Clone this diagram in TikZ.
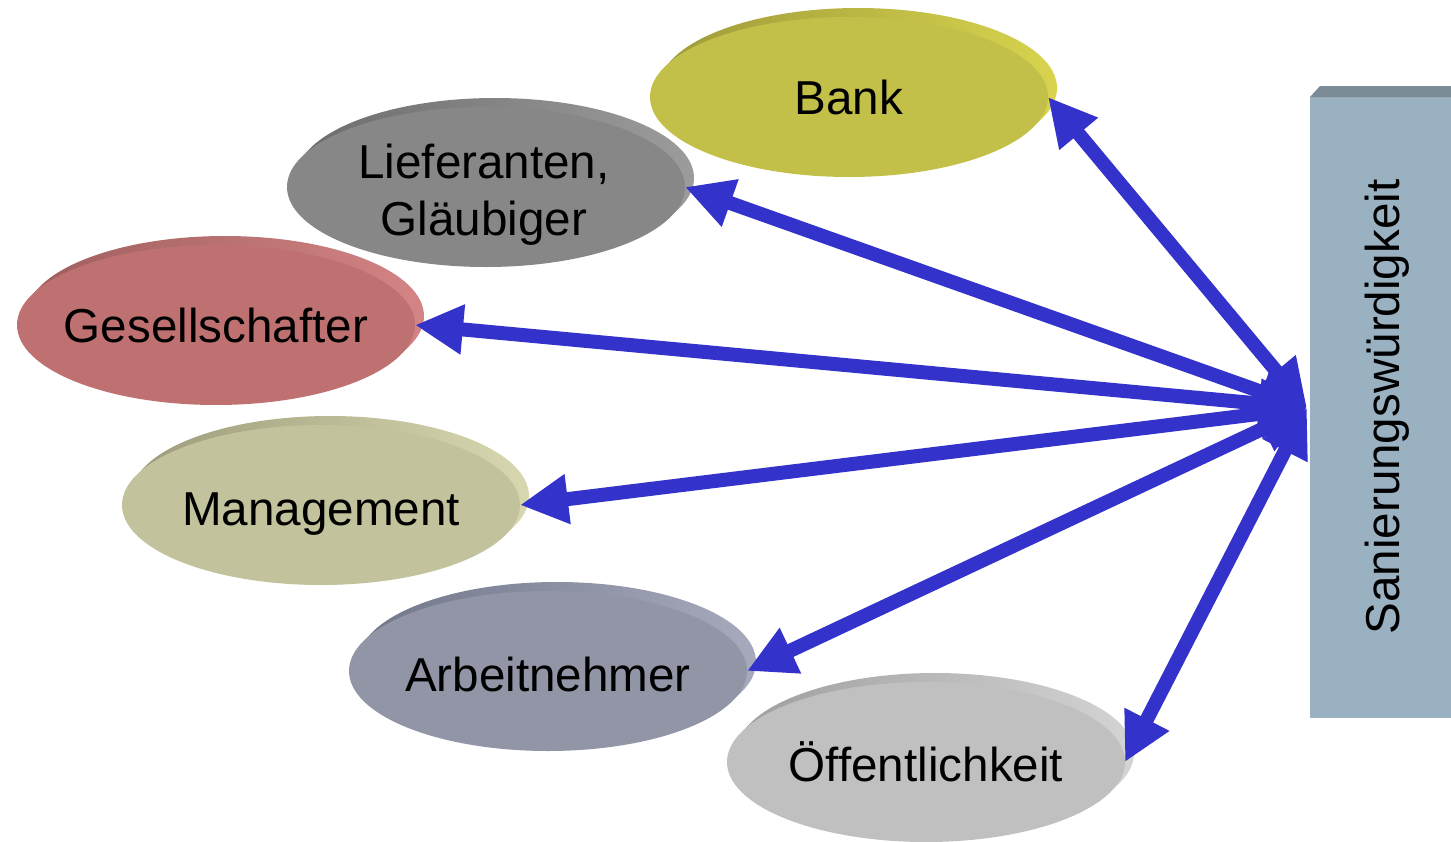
\documentclass[tikz,border=0pt]{standalone}
\usepackage{fontspec}
\setmainfont{Liberation Sans}
\usetikzlibrary{arrows.meta,shapes.geometric,calc}
\definecolor{bankM}{HTML}{C3C04A}\definecolor{bankD}{HTML}{9E9A3A}\definecolor{bankL}{HTML}{D8D44E}
\definecolor{liefM}{HTML}{878787}\definecolor{liefD}{HTML}{6C6C6C}\definecolor{liefL}{HTML}{9C9C9C}
\definecolor{gesM}{HTML}{BF7171}\definecolor{gesD}{HTML}{9E5E5E}\definecolor{gesL}{HTML}{D48484}
\definecolor{mgmM}{HTML}{C2C29C}\definecolor{mgmD}{HTML}{9C9C7C}\definecolor{mgmL}{HTML}{D8D8B0}
\definecolor{arbM}{HTML}{9195A6}\definecolor{arbD}{HTML}{72768A}\definecolor{arbL}{HTML}{A6AABC}
\definecolor{oefM}{HTML}{C0C0C0}\definecolor{oefD}{HTML}{9E9E9E}\definecolor{oefL}{HTML}{D4D4D4}
\definecolor{boxM}{HTML}{9AB1C1}\definecolor{boxT}{HTML}{7B8C97}
\definecolor{arrowblue}{HTML}{3333CC}
\tikzset{
  ell/.style={ellipse, minimum width=199pt, minimum height=80pt, inner sep=0pt, outer sep=0pt, draw=none},
  rim/.style 2 args={ell, left color=#1, right color=#2},
  lbl/.style={font=\fontsize{23.8}{28.5}\selectfont, text height=17pt, text depth=0pt, inner sep=0pt},
  lbl2/.style={font=\fontsize{23.8}{28.5}\selectfont, align=center, inner sep=0pt},
  arr/.style={draw=arrowblue, line width=7pt,
    {Triangle[length=24pt,width=23.5pt]}-{Triangle[length=24pt,width=23.5pt]}},
  boxnode/.style={rectangle, fill=boxM, minimum width=70.5pt, minimum height=310.5pt, inner sep=0pt, outer sep=0pt}
}
\begin{document}
\begin{tikzpicture}[x=0.5pt,y=-0.5pt]
\useasboundingbox (0,0) rectangle (1451,841);
% box
\node[boxnode] (box) at (1380.5,407.5) {};
\fill[boxT] (box.north west) -- ++(10,-11) -- (1451,86) -- (box.north east) -- cycle;
\node[lbl, rotate=90] (box-t) at (1382,407) {Sanierungswürdigkeit};
% ellipses
\node[rim={bankD}{bankL}] (bank-r) at (858,88) {};
\node[ell, fill=bankM] (bank) at (849,97) {};
\node[lbl] (bank-t) at (bank) {Bank};
\node[rim={liefD}{liefL}] (lief-r) at (495,178) {};
\node[ell, fill=liefM] (lief) at (486,187) {};
\node[lbl2] (lief-t) at (484,195) {Lieferanten,\\Gläubiger};
\node[rim={gesD}{gesL}] (ges-r) at (225,316) {};
\node[ell, fill=gesM] (ges) at (216,325) {};
\node[lbl] (ges-t) at (ges) {Gesellschafter};
\node[rim={mgmD}{mgmL}] (mgm-r) at (330,496) {};
\node[ell, fill=mgmM] (mgm) at (321,505) {};
\node[lbl] (mgm-t) at ($(mgm)+(0,3)$) {Management};
\node[rim={arbD}{arbL}] (arb-r) at (557,662) {};
\node[ell, fill=arbM] (arb) at (548,671) {};
\node[lbl] (arb-t) at ($(arb)+(0,3)$) {Arbeitnehmer};
\node[rim={oefD}{oefL}] (oef-r) at (935,753) {};
\node[ell, fill=oefM] (oef) at (926,762) {};
\node[lbl] (oef-t) at ($(oef)+(0,2)$) {Öffentlichkeit};
% arrows
\coordinate (C) at (1307,408);
\draw[arr] (bank.east) -- (C);
\draw[arr] (lief.east) -- (C);
\draw[arr] (ges.east) -- (C);
\draw[arr] (mgm.east) -- (C);
\draw[arr] (arb.east) -- (C);
\draw[arr] (oef.east) -- (C);
\end{tikzpicture}
\end{document}
